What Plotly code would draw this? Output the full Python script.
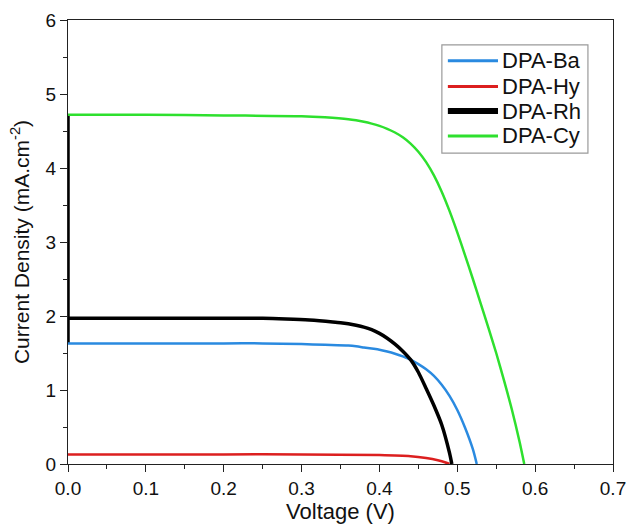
import plotly.graph_objects as go

# DPA-Ba
ba_v = [0.0, 0.1, 0.2, 0.25, 0.30, 0.33, 0.36, 0.37, 0.38, 0.39, 0.40, 0.41, 0.42, 0.43, 0.44, 0.45,
        0.46, 0.47, 0.48, 0.49, 0.50, 0.51, 0.52, 0.525]
ba_j = [1.63, 1.63, 1.63, 1.63, 1.62, 1.61, 1.60, 1.59, 1.575, 1.56, 1.545, 1.52, 1.49, 1.455, 1.41, 1.35,
        1.28, 1.19, 1.07, 0.92, 0.73, 0.49, 0.20, 0.0]
# DPA-Hy
hy_v = [0.0, 0.1, 0.2, 0.3, 0.4, 0.44, 0.46, 0.475, 0.485, 0.49]
hy_j = [0.13, 0.13, 0.13, 0.13, 0.12, 0.105, 0.08, 0.05, 0.02, 0.0]
# DPA-Rh
rh_v = [0.0, 0.1, 0.2, 0.25, 0.28, 0.31, 0.34, 0.35, 0.36, 0.37, 0.38, 0.39, 0.40, 0.41, 0.42, 0.43,
        0.44, 0.45, 0.46, 0.47, 0.48, 0.49, 0.493]
rh_j = [1.97, 1.97, 1.97, 1.97, 1.96, 1.945, 1.92, 1.91, 1.895, 1.875, 1.85, 1.815, 1.765, 1.70, 1.62, 1.525,
        1.41, 1.24, 1.02, 0.79, 0.53, 0.15, 0.0]
# vertical segment of DPA-Rh along the current axis at V = 0
rh_edge_v = [0.0, 0.0]
rh_edge_j = [4.72, 1.63]
# DPA-Cy
cy_v = [0.0, 0.1, 0.2, 0.3, 0.33, 0.36, 0.37, 0.38, 0.39, 0.40, 0.41, 0.42, 0.43, 0.44, 0.45, 0.46,
        0.47, 0.48, 0.49, 0.50, 0.51, 0.52, 0.53, 0.54, 0.55, 0.56, 0.57, 0.58, 0.586]
cy_j = [4.72, 4.72, 4.71, 4.70, 4.685, 4.66, 4.645, 4.625, 4.60, 4.57, 4.53, 4.48, 4.415, 4.33, 4.22, 4.08,
        3.90, 3.68, 3.42, 3.13, 2.82, 2.50, 2.17, 1.84, 1.50, 1.13, 0.74, 0.30, 0.0]

series_names = ["DPA-Ba", "DPA-Hy", "DPA-Rh", "DPA-Cy"]
series_colors = ["#2a8ae0", "#dc1f1f", "#000000", "#2ee02e"]
series_widths = [2.5, 2.5, 3.5, 2.5]
legend_widths = [3, 3, 6, 3]

x_ticks = [0.0, 0.1, 0.2, 0.3, 0.4, 0.5, 0.6, 0.7]
x_labels = ["0.0", "0.1", "0.2", "0.3", "0.4", "0.5", "0.6", "0.7"]
y_ticks = [0, 1, 2, 3, 4, 5, 6]

FONT = "Liberation Sans, Arial"

fig = go.Figure()
fig.add_trace(go.Scatter(x=rh_edge_v, y=rh_edge_j, mode="lines", showlegend=False,
                         line=dict(color="#000000", width=3.5), hoverinfo="skip"))
for vx, jy, name, col, w in zip([ba_v, hy_v, rh_v, cy_v], [ba_j, hy_j, rh_j, cy_j],
                                series_names, series_colors, series_widths):
    fig.add_trace(go.Scatter(x=vx, y=jy, mode="lines", name=name, showlegend=False,
                             line=dict(color=col, width=w, shape="spline", smoothing=0.7)))

# legend box (paper coordinates)
shapes = [dict(type="rect", xref="paper", yref="paper", x0=0.686, x1=0.954, y0=0.700, y1=0.944,
               line=dict(color="#9a9a9a", width=1.2), fillcolor="white", layer="above")]
annotations = []
legend_rows = [0.908, 0.850, 0.795, 0.739]
for name, col, lw, yr in zip(series_names, series_colors, legend_widths, legend_rows):
    shapes.append(dict(type="line", xref="paper", yref="paper", x0=0.697, x1=0.789, y0=yr, y1=yr,
                       line=dict(color=col, width=lw), layer="above"))
    annotations.append(dict(xref="paper", yref="paper", x=0.793, y=yr, xanchor="left", yanchor="middle",
                            text=name, showarrow=False,
                            font=dict(family=FONT, size=22, color="#111")))

axis_font = dict(family=FONT, size=19, color="#111")
fig.update_layout(
    width=627, height=526,
    margin=dict(l=68, r=14, t=20, b=62),
    paper_bgcolor="white", plot_bgcolor="white",
    font=dict(family=FONT, color="#111"),
    showlegend=False,
    shapes=shapes,
    annotations=annotations,
    xaxis=dict(range=[0, 0.7], tickvals=x_ticks, ticktext=x_labels, automargin=False,
               showgrid=False, zeroline=False, showline=True, linecolor="#222", linewidth=1.3,
               mirror=True, ticks="outside", ticklen=7, tickwidth=1.3, tickcolor="#222",
               tickfont=axis_font,
               minor=dict(dtick=0.05, ticks="outside", ticklen=4, tickwidth=1.3, tickcolor="#222"),
               title=dict(text="Voltage (V)", font=dict(family=FONT, size=22, color="#111"),
                          standoff=4)),
    yaxis=dict(range=[0, 6], tickvals=y_ticks, automargin=False,
               showgrid=False, zeroline=False, showline=True, linecolor="#222", linewidth=1.3,
               mirror=True, ticks="outside", ticklen=7, tickwidth=1.3, tickcolor="#222",
               tickfont=axis_font,
               minor=dict(dtick=0.5, ticks="outside", ticklen=4, tickwidth=1.3, tickcolor="#222"),
               title=dict(text="Current Density (mA.cm<sup>-2</sup>)",
                          font=dict(family=FONT, size=21, color="#111"),
                          standoff=10)),
)

fig.write_html("out.html")
